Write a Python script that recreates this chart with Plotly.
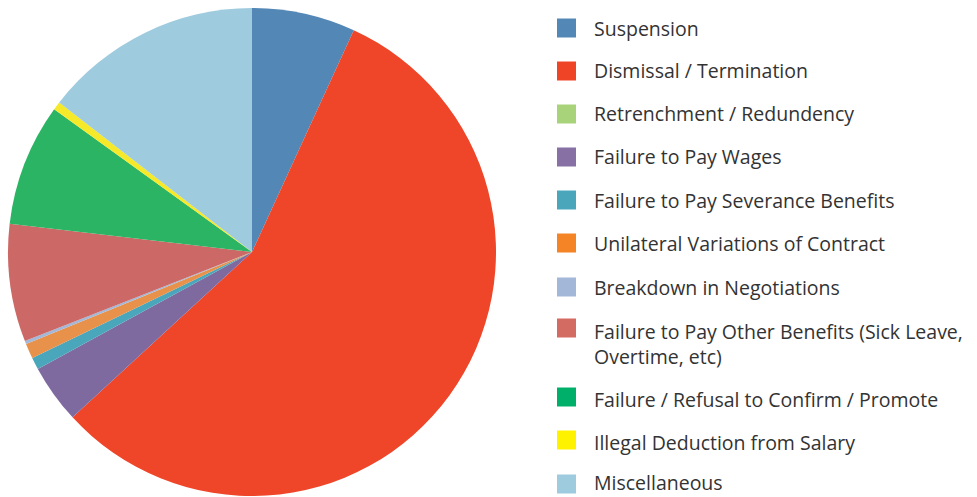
import plotly.graph_objects as go

W, H = 977, 497

categories = [
    "Suspension",
    "Dismissal / Termination",
    "Retrenchment / Redundency",
    "Failure to Pay Wages",
    "Failure to Pay Severance Benefits",
    "Unilateral Variations of Contract",
    "Breakdown in Negotiations",
    "Failure to Pay Other Benefits (Sick Leave, Overtime, etc)",
    "Failure / Refusal to Confirm / Promote",
    "Illegal Deduction from Salary",
    "Miscellaneous",
]
legend_labels = [
    "Suspension",
    "Dismissal / Termination",
    "Retrenchment / Redundency",
    "Failure to Pay Wages",
    "Failure to Pay Severance Benefits",
    "Unilateral Variations of Contract",
    "Breakdown in Negotiations",
    "Failure to Pay Other Benefits (Sick Leave,<br>Overtime, etc)",
    "Failure / Refusal to Confirm / Promote",
    "Illegal Deduction from Salary",
    "Miscellaneous",
]
values = [6.85, 56.3, 0.0, 3.9, 0.8, 1.0, 0.2, 7.8, 8.1, 0.55, 14.5]

slice_colors = ["#5287b6", "#ef4528", "#a8d37a", "#7f6aa0", "#4aa6bb", "#e8914a",
                "#a3b7d8", "#cc6966", "#2bb463", "#f5e92a", "#9ecbdd"]
legend_colors = ["#5287b6", "#ef4526", "#a8d37a", "#8670a4", "#4aa6bb", "#f58426",
                 "#a3b7d8", "#d46b63", "#00b06a", "#fff200", "#9ecbdd"]

fig = go.Figure()
fig.add_trace(go.Pie(
    labels=categories,
    values=values,
    sort=False,
    direction="clockwise",
    rotation=0,
    marker=dict(colors=slice_colors, line=dict(width=0)),
    textinfo="none",
    hoverinfo="label+percent",
    showlegend=False,
    domain=dict(x=[8 / W, 496 / W], y=[1 / H, 1 - 8 / H]),
))

# manual legend
row_centers = [28, 71, 114, 157, 200, 243, 287, 344, 399, 442, 482]
square_centers = [28, 71, 114, 157, 200, 243, 287, 328, 397, 440, 484]
font = dict(family="'Open Sans', sans-serif", size=19.5, color="#333333")
shapes = []
annotations = []
for lab, col, yc, ys in zip(legend_labels, legend_colors, row_centers, square_centers):
    shapes.append(dict(type="rect", xref="paper", yref="paper",
                       x0=557 / W, x1=576 / W,
                       y0=1 - (ys + 9.5) / H, y1=1 - (ys - 9.5) / H,
                       fillcolor=col, line=dict(width=0)))
    annotations.append(dict(text=lab, xref="paper", yref="paper",
                            x=592 / W, y=1 - yc / H, xanchor="left", yanchor="middle",
                            align="left", showarrow=False, font=font))

fig.update_layout(
    width=W, height=H,
    margin=dict(l=0, r=0, t=0, b=0),
    paper_bgcolor="white", plot_bgcolor="white",
    shapes=shapes, annotations=annotations,
    showlegend=False,
)
fig.write_html("out.html", config={"displayModeBar": False},
               post_script="document.body.style.margin='0px';")
